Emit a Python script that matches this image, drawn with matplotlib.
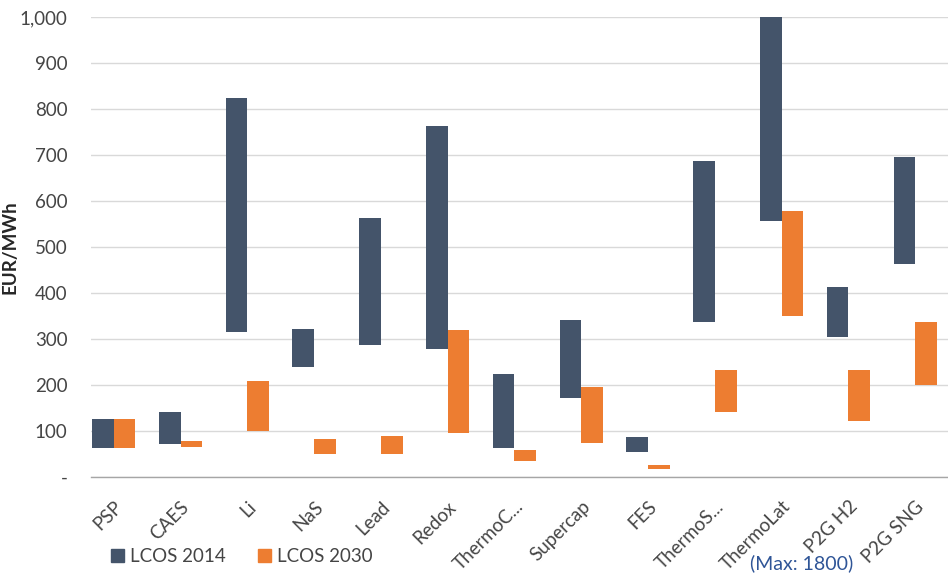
import matplotlib.pyplot as plt
import numpy as np
from matplotlib.patches import Patch
from matplotlib.ticker import FixedLocator, FuncFormatter

plt.rcParams['font.family'] = ['Lato', 'DejaVu Sans']

# LCOS ranges (EUR/MWh)
categories = ['PSP', 'CAES', 'Li', 'NaS', 'Lead', 'Redox', 'ThermoC...', 'Supercap',
              'FES', 'ThermoS...', 'ThermoLat', 'P2G H2', 'P2G SNG']
lcos2014_low = [62, 71, 315, 239, 288, 278, 62, 172, 54, 336, 557, 305, 462]
lcos2014_high = [126, 141, 823, 322, 562, 762, 224, 341, 88, 687, 1800, 414, 696]
lcos2030_low = [62, 66, 100, 49, 49, 96, 35, 73, 18, 141, 350, 121, 200]
lcos2030_high = [126, 79, 209, 82, 90, 319, 59, 196, 26, 233, 578, 233, 338]
y_ticks = [0, 100, 200, 300, 400, 500, 600, 700, 800, 900, 1000]

c2014 = '#44546A'
c2030 = '#ED7D31'
txt = '#454545'

fig = plt.figure(figsize=(9.48, 5.77), dpi=100)
ax = fig.add_axes([91 / 948, 1 - 477 / 577, 1 - 91 / 948, (477 - 17) / 577])

x = np.arange(len(categories))
w = 0.325
lo14, hi14 = np.array(lcos2014_low), np.array(lcos2014_high)
lo30, hi30 = np.array(lcos2030_low), np.array(lcos2030_high)
ax.bar(x - w / 2, hi14 - lo14, w, bottom=lo14, color=c2014, zorder=3)
ax.bar(x + w / 2, hi30 - lo30, w, bottom=lo30, color=c2030, zorder=3)

ax.set_ylim(0, 1000)
ax.set_xlim(-0.34, 12.49)
ax.yaxis.set_major_locator(FixedLocator(y_ticks))
ax.yaxis.set_major_formatter(FuncFormatter(lambda v, p: '-' if v == 0 else f'{int(v):,}'))
ax.grid(axis='y', color='#d9d9d9', linewidth=1.0, zorder=0)
ax.set_axisbelow(True)

for s in ['top', 'right', 'left']:
    ax.spines[s].set_visible(False)
ax.spines['bottom'].set_color('#a6a6a6')
ax.spines['bottom'].set_linewidth(1.0)
ax.spines['bottom'].set_zorder(4)

ax.tick_params(axis='y', length=0, pad=17, labelsize=13.5, labelcolor=txt)
ax.tick_params(axis='x', length=0, pad=15, labelsize=13.5, labelcolor=txt)
ax.set_xticks(x)
ax.set_xticklabels(categories, rotation=45, ha='right', va='top', rotation_mode='anchor')

ax.set_ylabel('EUR/MWh', fontsize=13.5, fontweight='bold', color='#262626')
ax.yaxis.set_label_coords(-0.085, 0.5)

handles = [Patch(color=c2014, label='LCOS 2014'), Patch(color=c2030, label='LCOS 2030')]
fig.legend(handles=handles, loc='center left', bbox_to_anchor=(111 / 948, 1 - 557 / 577),
           ncol=2, frameon=False, fontsize=13.5, handlelength=0.68, handleheight=0.68,
           handletextpad=0.35, columnspacing=1.7, borderpad=0, borderaxespad=0,
           labelcolor=txt)

fig.text(802 / 948, 1 - 563 / 577, '(Max: 1800)', ha='center', va='center',
         fontsize=14, color='#2F5597')

fig.savefig('out.png', dpi=100)
